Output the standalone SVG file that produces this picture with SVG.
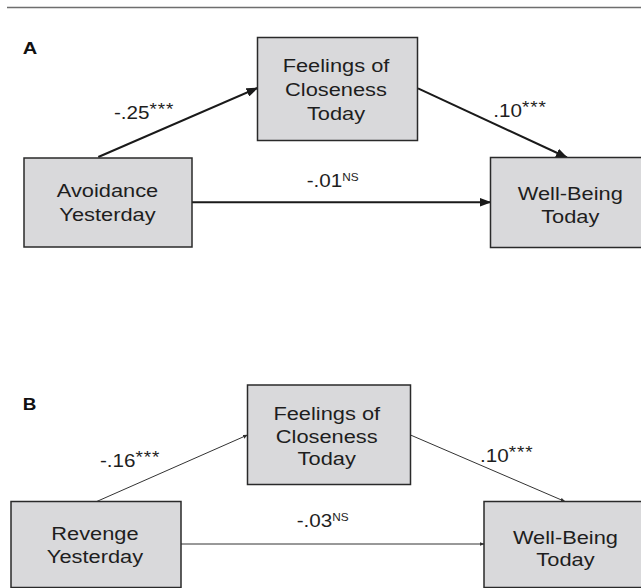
<svg xmlns="http://www.w3.org/2000/svg" width="641" height="588" viewBox="0 0 641 588">
<style>
.box{fill:#d9d9db;stroke:#2a2a2a;stroke-width:1.5}
.nt{font-family:"Liberation Sans",Arial,sans-serif;font-size:18.5px;fill:#1e1e1e;text-anchor:middle}
.lb{font-family:"Liberation Sans",Arial,sans-serif;font-size:17.5px;fill:#1e1e1e}
.st{font-size:16px;letter-spacing:0.8px}
.ns{font-size:10px}
.pl{font-family:"Liberation Sans",Arial,sans-serif;font-size:17px;font-weight:bold;fill:#111}
.ca{stroke:#1a1a1a;stroke-width:2;fill:none}
.cb{stroke:#333;stroke-width:1;fill:none}
</style>
<defs>
<marker id="ha" viewBox="0 0 12 9" refX="11" refY="4.5" markerWidth="12" markerHeight="9" markerUnits="userSpaceOnUse" orient="auto">
<path d="M0,0 L12,4.5 L0,9 z" fill="#1a1a1a"/>
</marker>
<marker id="hb" viewBox="0 0 5 4" refX="4.5" refY="2" markerWidth="5" markerHeight="4" markerUnits="userSpaceOnUse" orient="auto">
<path d="M0,0 L5,2 L0,4 z" fill="#333"/>
</marker>
</defs>
<rect width="641" height="588" fill="#fff"/>
<line x1="7" y1="7.5" x2="641" y2="7.5" stroke="#6e6e6e" stroke-width="1.6"/>
<text class="pl" transform="scale(1.18,1)" x="19.2" y="54.3">A</text>
<text class="pl" transform="scale(1.18,1)" x="19.2" y="410" style="font-size:16px">B</text>

<g id="connectors">
<line class="ca" x1="98.3" y1="157" x2="257.5" y2="88" marker-end="url(#ha)"/>
<line class="ca" x1="418" y1="88.3" x2="567" y2="157.5" marker-end="url(#ha)"/>
<line class="ca" x1="192" y1="202.3" x2="490.5" y2="202.3" marker-end="url(#ha)"/>
<line class="cb" x1="96.7" y1="501.5" x2="247.5" y2="435" marker-end="url(#hb)"/>
<line class="cb" x1="410.5" y1="435" x2="565" y2="501.5" marker-end="url(#hb)"/>
<line class="cb" x1="181" y1="544" x2="484" y2="544" marker-end="url(#hb)"/>
<text class="lb" transform="scale(1.18,1)" x="96.6" y="119">-.25<tspan class="st" dy="-4">***</tspan></text>
<text class="lb" transform="scale(1.18,1)" x="418.1" y="116.7">.10<tspan class="st" dy="-4">***</tspan></text>
<text class="lb" transform="scale(1.18,1)" x="259.9" y="186.7">-.01<tspan class="ns" dy="-6">NS</tspan></text>
<text class="lb" transform="scale(1.18,1)" x="84.7" y="466.7">-.16<tspan class="st" dy="-4">***</tspan></text>
<text class="lb" transform="scale(1.18,1)" x="406.8" y="461.7">.10<tspan class="st" dy="-4">***</tspan></text>
<text class="lb" transform="scale(1.18,1)" x="251.4" y="527.3">-.03<tspan class="ns" dy="-6">NS</tspan></text>
</g>

<g id="a-closeness">
<rect class="box" x="257.5" y="37.5" width="160" height="103"/>
<text class="nt" transform="scale(1.18,1)" x="284.75" y="72">Feelings of</text>
<text class="nt" transform="scale(1.18,1)" x="284.75" y="96">Closeness</text>
<text class="nt" transform="scale(1.18,1)" x="284.75" y="120">Today</text>
</g>
<g id="a-avoidance">
<rect class="box" x="24" y="158" width="168" height="89"/>
<text class="nt" transform="scale(1.18,1)" x="91.1" y="197.3">Avoidance</text>
<text class="nt" transform="scale(1.18,1)" x="91.1" y="221">Yesterday</text>
</g>
<g id="a-wellbeing">
<rect class="box" x="490.5" y="157.5" width="160" height="90"/>
<text class="nt" transform="scale(1.18,1)" x="483.3" y="200">Well-Being</text>
<text class="nt" transform="scale(1.18,1)" x="483.3" y="223.5">Today</text>
</g>

<g id="b-closeness">
<rect class="box" x="247.5" y="385" width="163" height="99.5"/>
<text class="nt" transform="scale(1.18,1)" x="276.9" y="420">Feelings of</text>
<text class="nt" transform="scale(1.18,1)" x="276.9" y="442.7">Closeness</text>
<text class="nt" transform="scale(1.18,1)" x="276.9" y="465">Today</text>
</g>
<g id="b-revenge">
<rect class="box" x="11" y="501.5" width="170" height="86"/>
<text class="nt" transform="scale(1.18,1)" x="80.5" y="540">Revenge</text>
<text class="nt" transform="scale(1.18,1)" x="80.5" y="563.3">Yesterday</text>
</g>
<g id="b-wellbeing">
<rect class="box" x="484" y="501.5" width="165" height="86"/>
<text class="nt" transform="scale(1.18,1)" x="479.2" y="544.3">Well-Being</text>
<text class="nt" transform="scale(1.18,1)" x="479.2" y="566">Today</text>
</g>
</svg>
